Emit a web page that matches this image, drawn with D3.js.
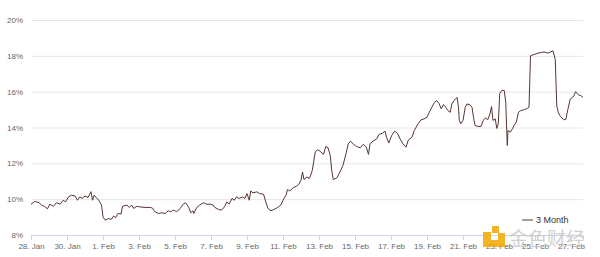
<!DOCTYPE html>
<html>
<head>
<meta charset="utf-8">
<script src="https://cdn.jsdelivr.net/npm/d3@7"></script>
<style>
  body { margin: 0; background: #fff; }
  svg { display: block; font-family: "Liberation Sans", Arial, sans-serif; }
</style>
</head>
<body>
<svg id="chart"></svg>
<script>
// 3 month implied volatility
var startDate = "2018-01-28 00:00";
var seriesName = "3 Month";

// hours after startDate
var hoursFromStart = [0,5,11,14,18,22,25,30,34,39,43,46,50,54,59,62,65,68,72,76,80,82,84,87,91,94,96,99,103,107,110,113,116,120,
  122,128,131,134,137,141,145,152,159,162,165,170,174,179,183,186,190,194,199,203,206,210,213,216,217,221,225,230,234,239,243,
  245,250,254,258,261,264,268,271,274,277,282,285,288,291,293,296,301,305,310,313,316,320,324,329,333,336,340,342,345,350,354,357,360,362,364,368,371,
  373,375,379,382,385,390,393,396,399,401,403,408,412,416,420,423,426,430,434,439,443,447,450,452,456,461,464,469,472,474,477,481,485,489,492,496,500,503,
  508,511,516,520,524,528,531,534,538,541,544,547,550,553,556,559,561,564,566,568,570,571,573,576,579,581,585,588,590,592,596,600,603,606,609,612,614,616,619,621,623,
  625,628,631,633,635,636,639,642,644,647,650,653,658,662,664,666,668,672,676,681,684,689,693,696,699,701,703,705,710,713,716,719,722,724,726,730,733,736];

var volatility = [9.72,9.87,9.80,9.67,9.60,9.46,9.72,9.60,9.80,9.72,9.94,9.85,10.13,10.22,10.17,9.94,10.13,10.04,10.17,10.10,10.42,9.94,10.22,10.10,9.90,9.67,9.00,8.83,8.92,8.87,9.05,8.98,9.20,9.17,
  9.60,9.67,9.54,9.67,9.48,9.60,9.57,9.54,9.54,9.50,9.30,9.20,9.24,9.20,9.35,9.30,9.39,9.30,9.48,9.72,9.80,9.57,9.24,9.35,9.20,9.54,9.67,9.80,9.72,9.72,9.67,
  9.54,9.43,9.39,9.57,9.85,9.72,10.04,9.94,10.13,10.04,10.13,10.04,10.31,9.94,10.46,10.35,10.41,10.31,10.28,9.85,9.48,9.35,9.43,9.54,9.67,9.94,10.22,10.54,10.46,10.65,10.72,10.83,11.06,11.52,11.09,11.24,11.15,
  11.35,11.60,12.63,12.76,12.69,12.50,12.94,12.87,12.44,11.60,11.09,11.20,11.52,11.89,12.54,13.09,13.24,13.06,12.94,12.87,13.06,12.91,12.50,13.09,13.24,13.37,13.61,13.69,13.80,13.46,13.13,13.56,13.80,13.65,13.37,13.09,12.90,13.30,
  13.46,13.83,14.20,14.43,14.48,14.57,14.85,15.09,15.41,15.50,15.35,15.04,15.28,15.13,14.94,14.85,15.31,15.50,15.59,15.68,15.13,14.39,14.20,14.39,15.13,15.31,15.28,15.13,14.57,14.11,14.06,14.06,14.39,14.54,14.43,14.76,15.17,14.39,14.48,13.95,14.20,
  15.90,16.08,16.06,15.41,13.00,13.83,13.74,13.93,14.11,14.30,14.85,14.94,15.00,15.07,15.13,18.00,18.04,18.09,18.15,18.19,18.22,18.15,18.22,18.28,17.80,15.22,14.85,14.67,14.44,14.44,15.04,15.59,15.68,15.78,16.00,15.82,15.78,15.68];

var yTicks = [8, 10, 12, 14, 16, 18, 20];
var xTickDates = ["2018-01-28","2018-01-30","2018-02-01","2018-02-03","2018-02-05","2018-02-07","2018-02-09","2018-02-11",
  "2018-02-13","2018-02-15","2018-02-17","2018-02-19","2018-02-21","2018-02-23","2018-02-25","2018-02-27"];

var width = 600, height = 257;
var margin = {left: 31, right: 17, top: 20, bottom: 22};

var parseTime = d3.timeParse("%Y-%m-%d %H:%M");
var parseDay = d3.timeParse("%Y-%m-%d");
var t0 = parseTime(startDate);

var data = hoursFromStart.map(function(h, i) {
  return {date: d3.timeHour.offset(t0, h), value: volatility[i]};
});

var svg = d3.select("#chart")
            .attr("width", width)
            .attr("height", height);

var x = d3.scaleTime()
          .domain([t0, d3.timeHour.offset(t0, 736)])
          .range([margin.left, width - margin.right]);

var y = d3.scaleLinear()
          .domain([8, 20])
          .range([height - margin.bottom, margin.top]);

// grid lines + y labels
var yAxis = svg.append("g")
   .attr("transform", "translate(" + margin.left + ",0)")
   .call(d3.axisLeft(y)
           .tickValues(yTicks)
           .tickSize(-(width - margin.right - margin.left))
           .tickPadding(8)
           .tickFormat(function(d){ return d + "%"; }));
yAxis.select(".domain").remove();
yAxis.selectAll(".tick line").attr("stroke", "#e6e6e6");
yAxis.selectAll(".tick text")
     .attr("fill", "#666")
     .attr("font-size", 8);

// x axis
var xAxis = svg.append("g")
   .attr("transform", "translate(0," + (height - margin.bottom) + ")")
   .call(d3.axisBottom(x)
           .tickValues(xTickDates.map(parseDay))
           .tickSize(5)
           .tickPadding(3)
           .tickFormat(d3.timeFormat("%-d. %b")));
xAxis.select(".domain").attr("stroke", "#ccd6eb");
xAxis.selectAll(".tick line").attr("stroke", "#ccd6eb");
xAxis.selectAll(".tick text")
     .attr("fill", "#666")
     .attr("font-size", 8);

// series
var line = d3.line()
             .x(function(d){ return x(d.date); })
             .y(function(d){ return y(d.value); });

svg.append("path")
   .datum(data)
   .attr("d", line)
   .attr("fill", "none")
   .attr("stroke", "#5a3434")
   .attr("stroke-width", 1);

// legend
var legend = svg.append("g").attr("transform", "translate(522,220)");
legend.append("line")
      .attr("x1", 0).attr("x2", 11)
      .attr("stroke", "#5a3434")
      .attr("stroke-width", 1);
legend.append("text")
      .attr("x", 14).attr("y", 3)
      .attr("font-size", 9)
      .attr("fill", "#333")
      .text(seriesName);

// watermark
var wm = svg.append("g").attr("opacity", 0.85);
wm.append("rect").attr("x", 483).attr("y", 232).attr("width", 8).attr("height", 15).attr("fill", "#f2a900");
wm.append("rect").attr("x", 483).attr("y", 240).attr("width", 22).attr("height", 7).attr("fill", "#f2a900");
wm.append("rect").attr("x", 492).attr("y", 226).attr("width", 7).attr("height", 7).attr("fill", "#f2a900");
wm.append("rect").attr("x", 498).attr("y", 233).attr("width", 7).attr("height", 14).attr("fill", "#f2a900");
wm.append("text")
  .attr("x", 509).attr("y", 246)
  .attr("font-family", "Noto Sans CJK SC")
  .attr("font-size", 19)
  .attr("fill", "#c8c8c8")
  .text("金色财经");
</script>
</body>
</html>
